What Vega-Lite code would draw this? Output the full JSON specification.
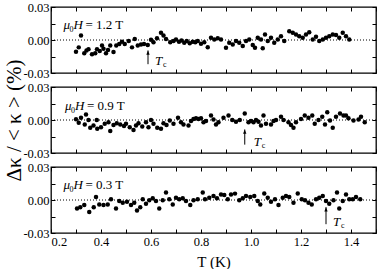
{
  "$schema": "https://vega.github.io/schema/vega-lite/v6.json",
  "padding": {"left": 3, "top": 0, "right": 2, "bottom": 0},
  "background": "white",
  "config": {
    "font": "Liberation Serif",
    "view": {"stroke": "black", "strokeWidth": 1.3},
    "axis": {"grid": false, "domain": false, "tickColor": "black", "tickSize": -4, "tickWidth": 1, "labelColor": "black", "labelFont": "Liberation Serif", "labelFontSize": 12.5, "labelPadding": 6, "titleFont": "Liberation Serif", "titleFontWeight": "normal", "titleColor": "black"},
    "text": {"font": "Liberation Serif", "color": "black"}
  },
  "datasets": {
    "pts": [
      {"H":"1.2","T":0.300,"d":-0.0107},{"H":"1.2","T":0.311,"d":-0.0067},{"H":"1.2","T":0.320,"d":0.0040},{"H":"1.2","T":0.333,"d":-0.0120},{"H":"1.2","T":0.342,"d":-0.0095},{"H":"1.2","T":0.350,"d":-0.0083},{"H":"1.2","T":0.364,"d":-0.0130},{"H":"1.2","T":0.377,"d":-0.0120},{"H":"1.2","T":0.384,"d":-0.0083},{"H":"1.2","T":0.395,"d":-0.0100},{"H":"1.2","T":0.404,"d":-0.0050},{"H":"1.2","T":0.410,"d":-0.0080},{"H":"1.2","T":0.420,"d":-0.0120},{"H":"1.2","T":0.428,"d":-0.0090},{"H":"1.2","T":0.437,"d":-0.0050},{"H":"1.2","T":0.450,"d":-0.0110},{"H":"1.2","T":0.461,"d":-0.0050},{"H":"1.2","T":0.473,"d":-0.0037},{"H":"1.2","T":0.484,"d":-0.0015},{"H":"1.2","T":0.495,"d":-0.0037},{"H":"1.2","T":0.511,"d":-0.0010},{"H":"1.2","T":0.524,"d":-0.0067},{"H":"1.2","T":0.535,"d":0.0010},{"H":"1.2","T":0.547,"d":-0.0050},{"H":"1.2","T":0.560,"d":-0.0040},{"H":"1.2","T":0.572,"d":-0.0037},{"H":"1.2","T":0.587,"d":-0.0045},{"H":"1.2","T":0.600,"d":0.0003},{"H":"1.2","T":0.610,"d":-0.0020},{"H":"1.2","T":0.624,"d":0.0015},{"H":"1.2","T":0.640,"d":0.0065},{"H":"1.2","T":0.650,"d":0.0040},{"H":"1.2","T":0.660,"d":0.0010},{"H":"1.2","T":0.677,"d":-0.0020},{"H":"1.2","T":0.690,"d":-0.0010},{"H":"1.2","T":0.700,"d":0.0005},{"H":"1.2","T":0.712,"d":-0.0015},{"H":"1.2","T":0.722,"d":-0.0005},{"H":"1.2","T":0.733,"d":-0.0025},{"H":"1.2","T":0.743,"d":-0.0010},{"H":"1.2","T":0.755,"d":-0.0030},{"H":"1.2","T":0.767,"d":-0.0015},{"H":"1.2","T":0.777,"d":-0.0020},{"H":"1.2","T":0.787,"d":-0.0010},{"H":"1.2","T":0.800,"d":-0.0035},{"H":"1.2","T":0.813,"d":-0.0020},{"H":"1.2","T":0.827,"d":-0.0065},{"H":"1.2","T":0.840,"d":0.0020},{"H":"1.2","T":0.853,"d":0.0005},{"H":"1.2","T":0.867,"d":0.0015},{"H":"1.2","T":0.880,"d":0.0005},{"H":"1.2","T":0.900,"d":-0.0070},{"H":"1.2","T":0.913,"d":-0.0025},{"H":"1.2","T":0.927,"d":-0.0040},{"H":"1.2","T":0.940,"d":-0.0010},{"H":"1.2","T":0.953,"d":-0.0025},{"H":"1.2","T":0.967,"d":-0.0055},{"H":"1.2","T":0.980,"d":-0.0010},{"H":"1.2","T":0.993,"d":0.0005},{"H":"1.2","T":1.007,"d":-0.0045},{"H":"1.2","T":1.016,"d":-0.0070},{"H":"1.2","T":1.027,"d":0.0020},{"H":"1.2","T":1.040,"d":0.0005},{"H":"1.2","T":1.047,"d":-0.0075},{"H":"1.2","T":1.056,"d":0.0050},{"H":"1.2","T":1.067,"d":-0.0010},{"H":"1.2","T":1.080,"d":0.0020},{"H":"1.2","T":1.093,"d":-0.0025},{"H":"1.2","T":1.107,"d":0.0005},{"H":"1.2","T":1.120,"d":0.0035},{"H":"1.2","T":1.133,"d":-0.0010},{"H":"1.2","T":1.153,"d":0.0080},{"H":"1.2","T":1.167,"d":0.0065},{"H":"1.2","T":1.180,"d":0.0050},{"H":"1.2","T":1.193,"d":0.0035},{"H":"1.2","T":1.207,"d":0.0020},{"H":"1.2","T":1.220,"d":0.0050},{"H":"1.2","T":1.233,"d":0.0070},{"H":"1.2","T":1.247,"d":0.0005},{"H":"1.2","T":1.260,"d":0.0030},{"H":"1.2","T":1.273,"d":-0.0010},{"H":"1.2","T":1.287,"d":0.0005},{"H":"1.2","T":1.300,"d":0.0020},{"H":"1.2","T":1.313,"d":0.0035},{"H":"1.2","T":1.327,"d":0.0050},{"H":"1.2","T":1.340,"d":0.0045},{"H":"1.2","T":1.353,"d":0.0020},{"H":"1.2","T":1.367,"d":0.0065},{"H":"1.2","T":1.380,"d":0.0035},{"H":"1.2","T":1.393,"d":0.0005},
      {"H":"0.9","T":0.300,"d":0.0006},{"H":"0.9","T":0.311,"d":-0.0025},{"H":"0.9","T":0.320,"d":0.0020},{"H":"0.9","T":0.335,"d":-0.0040},{"H":"0.9","T":0.340,"d":0.0050},{"H":"0.9","T":0.350,"d":0.0000},{"H":"0.9","T":0.357,"d":-0.0070},{"H":"0.9","T":0.370,"d":-0.0050},{"H":"0.9","T":0.383,"d":0.0000},{"H":"0.9","T":0.385,"d":-0.0080},{"H":"0.9","T":0.400,"d":-0.0065},{"H":"0.9","T":0.415,"d":-0.0035},{"H":"0.9","T":0.430,"d":-0.0020},{"H":"0.9","T":0.437,"d":-0.0100},{"H":"0.9","T":0.450,"d":-0.0045},{"H":"0.9","T":0.463,"d":-0.0030},{"H":"0.9","T":0.477,"d":-0.0040},{"H":"0.9","T":0.492,"d":-0.0055},{"H":"0.9","T":0.500,"d":-0.0034},{"H":"0.9","T":0.515,"d":-0.0065},{"H":"0.9","T":0.530,"d":-0.0090},{"H":"0.9","T":0.540,"d":-0.0050},{"H":"0.9","T":0.550,"d":-0.0030},{"H":"0.9","T":0.565,"d":-0.0060},{"H":"0.9","T":0.580,"d":-0.0020},{"H":"0.9","T":0.590,"d":-0.0065},{"H":"0.9","T":0.600,"d":0.0000},{"H":"0.9","T":0.610,"d":-0.0035},{"H":"0.9","T":0.625,"d":-0.0070},{"H":"0.9","T":0.640,"d":-0.0080},{"H":"0.9","T":0.650,"d":-0.0030},{"H":"0.9","T":0.662,"d":-0.0045},{"H":"0.9","T":0.675,"d":-0.0005},{"H":"0.9","T":0.690,"d":-0.0035},{"H":"0.9","T":0.708,"d":0.0020},{"H":"0.9","T":0.720,"d":-0.0020},{"H":"0.9","T":0.730,"d":-0.0040},{"H":"0.9","T":0.750,"d":-0.0050},{"H":"0.9","T":0.760,"d":-0.0010},{"H":"0.9","T":0.770,"d":0.0010},{"H":"0.9","T":0.780,"d":0.0015},{"H":"0.9","T":0.790,"d":0.0010},{"H":"0.9","T":0.800,"d":0.0015},{"H":"0.9","T":0.810,"d":-0.0020},{"H":"0.9","T":0.820,"d":-0.0010},{"H":"0.9","T":0.840,"d":0.0040},{"H":"0.9","T":0.850,"d":0.0005},{"H":"0.9","T":0.860,"d":-0.0040},{"H":"0.9","T":0.870,"d":-0.0020},{"H":"0.9","T":0.890,"d":0.0020},{"H":"0.9","T":0.910,"d":0.0040},{"H":"0.9","T":0.925,"d":0.0000},{"H":"0.9","T":0.940,"d":-0.0015},{"H":"0.9","T":0.955,"d":0.0000},{"H":"0.9","T":0.975,"d":0.0060},{"H":"0.9","T":0.990,"d":-0.0020},{"H":"0.9","T":1.000,"d":-0.0010},{"H":"0.9","T":1.010,"d":-0.0020},{"H":"0.9","T":1.020,"d":0.0000},{"H":"0.9","T":1.030,"d":-0.0015},{"H":"0.9","T":1.040,"d":-0.0050},{"H":"0.9","T":1.050,"d":0.0040},{"H":"0.9","T":1.060,"d":-0.0035},{"H":"0.9","T":1.080,"d":-0.0040},{"H":"0.9","T":1.090,"d":-0.0010},{"H":"0.9","T":1.100,"d":0.0000},{"H":"0.9","T":1.120,"d":0.0030},{"H":"0.9","T":1.130,"d":0.0000},{"H":"0.9","T":1.150,"d":-0.0020},{"H":"0.9","T":1.160,"d":-0.0045},{"H":"0.9","T":1.170,"d":-0.0070},{"H":"0.9","T":1.180,"d":-0.0020},{"H":"0.9","T":1.200,"d":0.0010},{"H":"0.9","T":1.215,"d":0.0040},{"H":"0.9","T":1.230,"d":0.0020},{"H":"0.9","T":1.245,"d":0.0040},{"H":"0.9","T":1.255,"d":-0.0035},{"H":"0.9","T":1.270,"d":0.0000},{"H":"0.9","T":1.285,"d":0.0030},{"H":"0.9","T":1.296,"d":-0.0040},{"H":"0.9","T":1.305,"d":0.0070},{"H":"0.9","T":1.316,"d":-0.0005},{"H":"0.9","T":1.327,"d":-0.0070},{"H":"0.9","T":1.340,"d":0.0030},{"H":"0.9","T":1.356,"d":0.0060},{"H":"0.9","T":1.370,"d":0.0040},{"H":"0.9","T":1.380,"d":0.0040},{"H":"0.9","T":1.390,"d":0.0015},{"H":"0.9","T":1.410,"d":-0.0005},{"H":"0.9","T":1.430,"d":0.0005},{"H":"0.9","T":1.440,"d":0.0030},{"H":"0.9","T":1.455,"d":-0.0020},
      {"H":"0.3","T":0.304,"d":-0.0077},{"H":"0.3","T":0.317,"d":-0.0065},{"H":"0.3","T":0.333,"d":-0.0046},{"H":"0.3","T":0.353,"d":-0.0110},{"H":"0.3","T":0.371,"d":-0.0065},{"H":"0.3","T":0.380,"d":0.0028},{"H":"0.3","T":0.393,"d":-0.0040},{"H":"0.3","T":0.410,"d":-0.0046},{"H":"0.3","T":0.427,"d":-0.0040},{"H":"0.3","T":0.440,"d":0.0006},{"H":"0.3","T":0.460,"d":-0.0077},{"H":"0.3","T":0.473,"d":-0.0010},{"H":"0.3","T":0.487,"d":-0.0025},{"H":"0.3","T":0.504,"d":-0.0015},{"H":"0.3","T":0.520,"d":-0.0046},{"H":"0.3","T":0.533,"d":-0.0025},{"H":"0.3","T":0.544,"d":-0.0095},{"H":"0.3","T":0.557,"d":-0.0065},{"H":"0.3","T":0.567,"d":0.0006},{"H":"0.3","T":0.580,"d":-0.0034},{"H":"0.3","T":0.593,"d":-0.0003},{"H":"0.3","T":0.607,"d":0.0015},{"H":"0.3","T":0.620,"d":-0.0010},{"H":"0.3","T":0.633,"d":-0.0077},{"H":"0.3","T":0.647,"d":-0.0003},{"H":"0.3","T":0.660,"d":0.0068},{"H":"0.3","T":0.673,"d":0.0006},{"H":"0.3","T":0.687,"d":-0.0040},{"H":"0.3","T":0.700,"d":0.0020},{"H":"0.3","T":0.713,"d":0.0006},{"H":"0.3","T":0.727,"d":0.0015},{"H":"0.3","T":0.740,"d":-0.0010},{"H":"0.3","T":0.757,"d":-0.0046},{"H":"0.3","T":0.770,"d":-0.0003},{"H":"0.3","T":0.787,"d":0.0006},{"H":"0.3","T":0.807,"d":0.0068},{"H":"0.3","T":0.816,"d":0.0006},{"H":"0.3","T":0.833,"d":0.0020},{"H":"0.3","T":0.850,"d":0.0037},{"H":"0.3","T":0.864,"d":0.0015},{"H":"0.3","T":0.880,"d":0.0050},{"H":"0.3","T":0.893,"d":0.0046},{"H":"0.3","T":0.907,"d":0.0006},{"H":"0.3","T":0.920,"d":0.0050},{"H":"0.3","T":0.936,"d":0.0058},{"H":"0.3","T":0.953,"d":-0.0003},{"H":"0.3","T":0.967,"d":0.0015},{"H":"0.3","T":0.980,"d":0.0037},{"H":"0.3","T":0.997,"d":0.0028},{"H":"0.3","T":1.013,"d":0.0037},{"H":"0.3","T":1.027,"d":-0.0010},{"H":"0.3","T":1.037,"d":-0.0040},{"H":"0.3","T":1.053,"d":0.0060},{"H":"0.3","T":1.067,"d":0.0020},{"H":"0.3","T":1.080,"d":-0.0015},{"H":"0.3","T":1.096,"d":0.0006},{"H":"0.3","T":1.110,"d":-0.0046},{"H":"0.3","T":1.127,"d":0.0020},{"H":"0.3","T":1.140,"d":0.0037},{"H":"0.3","T":1.153,"d":0.0028},{"H":"0.3","T":1.170,"d":-0.0025},{"H":"0.3","T":1.187,"d":0.0060},{"H":"0.3","T":1.203,"d":0.0006},{"H":"0.3","T":1.216,"d":-0.0003},{"H":"0.3","T":1.230,"d":-0.0025},{"H":"0.3","T":1.243,"d":-0.0040},{"H":"0.3","T":1.260,"d":0.0006},{"H":"0.3","T":1.273,"d":0.0020},{"H":"0.3","T":1.287,"d":0.0037},{"H":"0.3","T":1.300,"d":-0.0010},{"H":"0.3","T":1.313,"d":-0.0034},{"H":"0.3","T":1.330,"d":-0.0003},{"H":"0.3","T":1.344,"d":0.0068},{"H":"0.3","T":1.353,"d":-0.0077},{"H":"0.3","T":1.367,"d":-0.0010},{"H":"0.3","T":1.380,"d":0.0050},{"H":"0.3","T":1.393,"d":0.0006},{"H":"0.3","T":1.407,"d":0.0006},{"H":"0.3","T":1.420,"d":0.0028},{"H":"0.3","T":1.437,"d":0.0006}
    ]
  },
  "vconcat": [
    {
      "width": 325, "height": 66,
      "resolve": {"axis": {"x": "independent", "y": "independent"}},
      "layer": [
        {"data": {"name": "pts"}, "transform": [{"filter": "datum.H == '1.2'"}],
         "mark": {"type": "circle", "size": 20, "color": "black", "opacity": 1},
         "encoding": {
           "x": {"field": "T", "type": "quantitative", "scale": {"domain": [0.2, 1.5], "nice": false, "zero": false}, "axis": {"orient": "bottom", "values": [0.2,0.3,0.4,0.5,0.6,0.7,0.8,0.9,1.0,1.1,1.2,1.3,1.4,1.5], "labels": false, "title": null}},
           "y": {"field": "d", "type": "quantitative", "scale": {"domain": [-0.03, 0.03], "nice": false, "zero": false}, "axis": {"orient": "left", "values": [-0.03,-0.015,0,0.015,0.03], "labelExpr": "datum.value == 0.03 ? '0.03' : datum.value == -0.03 ? '-0.03' : datum.value == 0 ? '0.00' : ''", "title": null}}
         }},
        {"data": {"values": [{}]}, "mark": {"type": "rule", "color": "black", "strokeWidth": 1, "strokeDash": [1, 2]},
         "encoding": {"y": {"datum": 0, "type": "quantitative", "scale": {"domain": [-0.03, 0.03], "nice": false, "zero": false}, "axis": null}}},
        {"data": {"values": [{}]}, "mark": {"type": "rule", "color": "black", "strokeWidth": 1},
         "encoding": {
           "x": {"datum": 0.588, "type": "quantitative", "scale": {"domain": [0.2, 1.5], "nice": false, "zero": false}, "axis": {"orient": "top", "values": [0.2,0.3,0.4,0.5,0.6,0.7,0.8,0.9,1.0,1.1,1.2,1.3,1.4,1.5], "labels": false, "title": null}},
           "y": {"datum": -0.022, "type": "quantitative", "scale": {"domain": [-0.03, 0.03], "nice": false, "zero": false}, "axis": {"orient": "right", "values": [-0.03,-0.015,0,0.015,0.03], "labels": false, "title": null}},
           "y2": {"datum": -0.0095}
         }},
        {"data": {"values": [{}]}, "mark": {"type": "point", "shape": "M0,0L-0.6,1.6L0.6,1.6Z", "size": 30, "filled": true, "color": "black", "opacity": 1},
         "encoding": {"x": {"datum": 0.588, "type": "quantitative", "axis": null}, "y": {"datum": -0.0095, "type": "quantitative", "axis": null}}},
        {"data": {"values": [{}]}, "mark": {"type": "text", "text": "T", "fontStyle": "italic", "fontSize": 13, "align": "left", "baseline": "alphabetic", "dx": 7},
         "encoding": {"x": {"datum": 0.588, "type": "quantitative", "axis": null}, "y": {"datum": -0.023, "type": "quantitative", "axis": null}}},
        {"data": {"values": [{}]}, "mark": {"type": "text", "text": "c", "fontSize": 8, "align": "left", "baseline": "alphabetic", "dx": 15, "dy": 2},
         "encoding": {"x": {"datum": 0.588, "type": "quantitative", "axis": null}, "y": {"datum": -0.023, "type": "quantitative", "axis": null}}},
        {"data": {"values": [{}]}, "mark": {"type": "text", "text": "μ", "fontStyle": "italic", "fontSize": 13, "align": "left", "baseline": "alphabetic"},
         "encoding": {"x": {"datum": 0.25, "type": "quantitative", "axis": null}, "y": {"datum": 0.0098, "type": "quantitative", "axis": null}}},
        {"data": {"values": [{}]}, "mark": {"type": "text", "text": "0", "fontSize": 8, "align": "left", "baseline": "alphabetic", "dx": 6, "dy": 3},
         "encoding": {"x": {"datum": 0.25, "type": "quantitative", "axis": null}, "y": {"datum": 0.0098, "type": "quantitative", "axis": null}}},
        {"data": {"values": [{}]}, "mark": {"type": "text", "text": "H", "fontStyle": "italic", "fontSize": 13, "align": "left", "baseline": "alphabetic", "dx": 10},
         "encoding": {"x": {"datum": 0.25, "type": "quantitative", "axis": null}, "y": {"datum": 0.0098, "type": "quantitative", "axis": null}}},
        {"data": {"values": [{}]}, "mark": {"type": "text", "text": "= 1.2 T", "fontSize": 13, "align": "left", "baseline": "alphabetic", "dx": 22},
         "encoding": {"x": {"datum": 0.25, "type": "quantitative", "axis": null}, "y": {"datum": 0.0098, "type": "quantitative", "axis": null}}}
      ]
    },
    {
      "width": 325, "height": 66,
      "resolve": {"axis": {"x": "independent", "y": "independent"}},
      "layer": [
        {"data": {"name": "pts"}, "transform": [{"filter": "datum.H == '0.9'"}],
         "mark": {"type": "circle", "size": 20, "color": "black", "opacity": 1},
         "encoding": {
           "x": {"field": "T", "type": "quantitative", "scale": {"domain": [0.2, 1.5], "nice": false, "zero": false}, "axis": {"orient": "bottom", "values": [0.2,0.3,0.4,0.5,0.6,0.7,0.8,0.9,1.0,1.1,1.2,1.3,1.4,1.5], "labels": false, "title": null}},
           "y": {"field": "d", "type": "quantitative", "scale": {"domain": [-0.03, 0.03], "nice": false, "zero": false}, "axis": {"orient": "left", "values": [-0.03,-0.015,0,0.015,0.03], "labelExpr": "datum.value == 0.03 ? '0.03' : datum.value == -0.03 ? '-0.03' : datum.value == 0 ? '0.00' : ''", "title": "Δκ  /  <  κ  >  (%)", "titleFontSize": 21, "titlePadding": -2}}
         }},
        {"data": {"values": [{}]}, "mark": {"type": "rule", "color": "black", "strokeWidth": 1, "strokeDash": [1, 2]},
         "encoding": {"y": {"datum": 0, "type": "quantitative", "scale": {"domain": [-0.03, 0.03], "nice": false, "zero": false}, "axis": null}}},
        {"data": {"values": [{}]}, "mark": {"type": "rule", "color": "black", "strokeWidth": 1},
         "encoding": {
           "x": {"datum": 0.975, "type": "quantitative", "scale": {"domain": [0.2, 1.5], "nice": false, "zero": false}, "axis": {"orient": "top", "values": [0.2,0.3,0.4,0.5,0.6,0.7,0.8,0.9,1.0,1.1,1.2,1.3,1.4,1.5], "labels": false, "title": null}},
           "y": {"datum": -0.0224, "type": "quantitative", "scale": {"domain": [-0.03, 0.03], "nice": false, "zero": false}, "axis": {"orient": "right", "values": [-0.03,-0.015,0,0.015,0.03], "labels": false, "title": null}},
           "y2": {"datum": -0.0086}
         }},
        {"data": {"values": [{}]}, "mark": {"type": "point", "shape": "M0,0L-0.6,1.6L0.6,1.6Z", "size": 30, "filled": true, "color": "black", "opacity": 1},
         "encoding": {"x": {"datum": 0.975, "type": "quantitative", "axis": null}, "y": {"datum": -0.0086, "type": "quantitative", "axis": null}}},
        {"data": {"values": [{}]}, "mark": {"type": "text", "text": "T", "fontStyle": "italic", "fontSize": 13, "align": "left", "baseline": "alphabetic", "dx": 9},
         "encoding": {"x": {"datum": 0.975, "type": "quantitative", "axis": null}, "y": {"datum": -0.0232, "type": "quantitative", "axis": null}}},
        {"data": {"values": [{}]}, "mark": {"type": "text", "text": "c", "fontSize": 8, "align": "left", "baseline": "alphabetic", "dx": 17, "dy": 2},
         "encoding": {"x": {"datum": 0.975, "type": "quantitative", "axis": null}, "y": {"datum": -0.0232, "type": "quantitative", "axis": null}}},
        {"data": {"values": [{}]}, "mark": {"type": "text", "text": "μ", "fontStyle": "italic", "fontSize": 13, "align": "left", "baseline": "alphabetic"},
         "encoding": {"x": {"datum": 0.256, "type": "quantitative", "axis": null}, "y": {"datum": 0.009, "type": "quantitative", "axis": null}}},
        {"data": {"values": [{}]}, "mark": {"type": "text", "text": "0", "fontSize": 8, "align": "left", "baseline": "alphabetic", "dx": 6, "dy": 3},
         "encoding": {"x": {"datum": 0.256, "type": "quantitative", "axis": null}, "y": {"datum": 0.009, "type": "quantitative", "axis": null}}},
        {"data": {"values": [{}]}, "mark": {"type": "text", "text": "H", "fontStyle": "italic", "fontSize": 13, "align": "left", "baseline": "alphabetic", "dx": 10},
         "encoding": {"x": {"datum": 0.256, "type": "quantitative", "axis": null}, "y": {"datum": 0.009, "type": "quantitative", "axis": null}}},
        {"data": {"values": [{}]}, "mark": {"type": "text", "text": "= 0.9 T", "fontSize": 13, "align": "left", "baseline": "alphabetic", "dx": 22},
         "encoding": {"x": {"datum": 0.256, "type": "quantitative", "axis": null}, "y": {"datum": 0.009, "type": "quantitative", "axis": null}}}
      ]
    },
    {
      "width": 325, "height": 66,
      "resolve": {"axis": {"x": "independent", "y": "independent"}},
      "layer": [
        {"data": {"name": "pts"}, "transform": [{"filter": "datum.H == '0.3'"}],
         "mark": {"type": "circle", "size": 20, "color": "black", "opacity": 1},
         "encoding": {
           "x": {"field": "T", "type": "quantitative", "scale": {"domain": [0.2, 1.5], "nice": false, "zero": false}, "axis": {"orient": "bottom", "values": [0.2,0.3,0.4,0.5,0.6,0.7,0.8,0.9,1.0,1.1,1.2,1.3,1.4,1.5], "labelExpr": "round(datum.value*10) % 2 == 0 && datum.value < 1.45 ? format(datum.value, '.1f') : ''", "title": "T (K)", "titleFontSize": 15, "titlePadding": 7}},
           "y": {"field": "d", "type": "quantitative", "scale": {"domain": [-0.03, 0.03], "nice": false, "zero": false}, "axis": {"orient": "left", "values": [-0.03,-0.015,0,0.015,0.03], "labelExpr": "datum.value == 0.03 ? '0.03' : datum.value == -0.03 ? '-0.03' : datum.value == 0 ? '0.00' : ''", "title": null}}
         }},
        {"data": {"values": [{}]}, "mark": {"type": "rule", "color": "black", "strokeWidth": 1, "strokeDash": [1, 2]},
         "encoding": {"y": {"datum": 0, "type": "quantitative", "scale": {"domain": [-0.03, 0.03], "nice": false, "zero": false}, "axis": null}}},
        {"data": {"values": [{}]}, "mark": {"type": "rule", "color": "black", "strokeWidth": 1},
         "encoding": {
           "x": {"datum": 1.3, "type": "quantitative", "scale": {"domain": [0.2, 1.5], "nice": false, "zero": false}, "axis": {"orient": "top", "values": [0.2,0.3,0.4,0.5,0.6,0.7,0.8,0.9,1.0,1.1,1.2,1.3,1.4,1.5], "labels": false, "title": null}},
           "y": {"datum": -0.022, "type": "quantitative", "scale": {"domain": [-0.03, 0.03], "nice": false, "zero": false}, "axis": {"orient": "right", "values": [-0.03,-0.015,0,0.015,0.03], "labels": false, "title": null}},
           "y2": {"datum": -0.0065}
         }},
        {"data": {"values": [{}]}, "mark": {"type": "point", "shape": "M0,0L-0.6,1.6L0.6,1.6Z", "size": 30, "filled": true, "color": "black", "opacity": 1},
         "encoding": {"x": {"datum": 1.3, "type": "quantitative", "axis": null}, "y": {"datum": -0.0065, "type": "quantitative", "axis": null}}},
        {"data": {"values": [{}]}, "mark": {"type": "text", "text": "T", "fontStyle": "italic", "fontSize": 13, "align": "left", "baseline": "alphabetic", "dx": 7},
         "encoding": {"x": {"datum": 1.3, "type": "quantitative", "axis": null}, "y": {"datum": -0.0234, "type": "quantitative", "axis": null}}},
        {"data": {"values": [{}]}, "mark": {"type": "text", "text": "c", "fontSize": 8, "align": "left", "baseline": "alphabetic", "dx": 15, "dy": 2},
         "encoding": {"x": {"datum": 1.3, "type": "quantitative", "axis": null}, "y": {"datum": -0.0234, "type": "quantitative", "axis": null}}},
        {"data": {"values": [{}]}, "mark": {"type": "text", "text": "μ", "fontStyle": "italic", "fontSize": 13, "align": "left", "baseline": "alphabetic"},
         "encoding": {"x": {"datum": 0.25, "type": "quantitative", "axis": null}, "y": {"datum": 0.0100, "type": "quantitative", "axis": null}}},
        {"data": {"values": [{}]}, "mark": {"type": "text", "text": "0", "fontSize": 8, "align": "left", "baseline": "alphabetic", "dx": 6, "dy": 3},
         "encoding": {"x": {"datum": 0.25, "type": "quantitative", "axis": null}, "y": {"datum": 0.0100, "type": "quantitative", "axis": null}}},
        {"data": {"values": [{}]}, "mark": {"type": "text", "text": "H", "fontStyle": "italic", "fontSize": 13, "align": "left", "baseline": "alphabetic", "dx": 10},
         "encoding": {"x": {"datum": 0.25, "type": "quantitative", "axis": null}, "y": {"datum": 0.0100, "type": "quantitative", "axis": null}}},
        {"data": {"values": [{}]}, "mark": {"type": "text", "text": "= 0.3 T", "fontSize": 13, "align": "left", "baseline": "alphabetic", "dx": 22},
         "encoding": {"x": {"datum": 0.25, "type": "quantitative", "axis": null}, "y": {"datum": 0.0100, "type": "quantitative", "axis": null}}}
      ]
    }
  ],
  "spacing": 14,
  "bounds": "flush"
}
